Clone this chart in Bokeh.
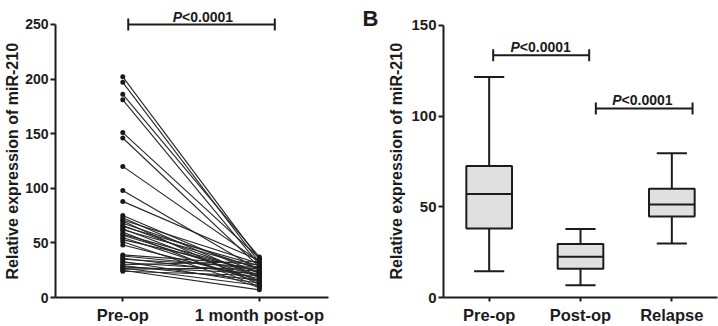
from bokeh.plotting import figure
from bokeh.models import Range1d, FactorRange, FixedTicker, Title, ColumnDataSource
from bokeh.layouts import row
from bokeh.transform import dodge
from bokeh.embed import file_html
from bokeh.resources import INLINE
from bokeh.core.properties import value

FONT = "Liberation Sans"
INK = "#1c1c1c"

# ---- Panel A: paired miR-210 levels before and 1 month after surgery ----
pair_groups = ["Pre-op", "1 month post-op"]
pre_op = [202, 197, 186, 181, 151, 146, 120, 98, 88,
          75, 73, 71, 70, 68, 66, 65, 63, 62, 60, 58, 57, 55, 53, 51, 48,
          39, 38, 36, 35, 33, 32, 30, 29, 28, 27, 26, 25, 24]
post_op = [35, 32, 37, 30, 36, 28, 33, 25, 34,
           22, 18, 31, 12, 26, 20, 29, 15, 27, 10, 23, 19, 14, 24, 9, 17,
           30, 26, 21, 28, 13, 24, 33, 16, 22, 11, 27, 7, 20]
left_ticks = [0, 50, 100, 150, 200, 250]

# ---- Panel B: box plot summaries ----
box_groups = ["Pre-op", "Post-op", "Relapse"]
whisker_low = [14.5, 6.8, 29.8]
q1 = [38.0, 15.8, 44.7]
median = [57.0, 22.4, 51.3]
q3 = [72.5, 29.5, 60.0]
whisker_high = [121.6, 37.7, 79.5]
right_ticks = [0, 50, 100, 150]

p_label = "<0.0001"
y_title = "Relative expression of miR-210"
panel_letter = "B"


def style(p, ticks, tick_font, title_standoff):
    p.xgrid.visible = False
    p.ygrid.visible = False
    p.outline_line_color = None
    p.background_fill_color = "white"
    p.border_fill_color = "white"
    for ax in p.axis:
        ax.axis_line_width = 2
        ax.axis_line_color = INK
        ax.major_tick_line_width = 2
        ax.major_tick_line_color = INK
        ax.major_tick_out = 5
        ax.major_tick_in = 0
        ax.minor_tick_line_color = None
        ax.major_label_text_font = FONT
        ax.major_label_text_font_style = "bold"
        ax.major_label_text_color = INK
    p.xaxis.major_label_text_font_size = "16.5px"
    p.xaxis.major_tick_out = 4
    p.xaxis.major_label_standoff = 4
    p.yaxis.major_label_text_font_size = tick_font
    p.yaxis.major_label_standoff = 2
    p.yaxis.ticker = FixedTicker(ticks=ticks)
    p.yaxis.bounds = (ticks[0], ticks[-1])
    # y title laid out beside the axis, starting just above the x axis
    p.add_layout(Title(text=y_title, align="left", offset=18, standoff=title_standoff,
                       text_font=FONT, text_font_size="16px", text_font_style="bold",
                       text_color=INK), "left")


def p_value(p, x, y):
    p.text(x=[x], y=[y], text=["P"], text_align="right", text_baseline="alphabetic",
           text_font=value(FONT), text_font_style="bold italic", text_font_size="14px",
           text_color=INK)
    p.text(x=[x], y=[y], text=[p_label], text_align="left", text_baseline="alphabetic",
           text_font=value(FONT), text_font_style="bold", text_font_size="14px",
           text_color=INK)


def bracket(p, x0, x1, y, half):
    p.segment(x0=[x0, x0, x1], y0=[y, y - half, y - half],
              x1=[x1, x0, x1], y1=[y, y + half, y + half],
              line_color=INK, line_width=2)


# ---------------- Panel A ----------------
# groups sit at x = 0, 1; the frame runs on to the right to hold the panel letter
pair_x = {g: i for i, g in enumerate(pair_groups)}
pa = figure(width=380, height=326, output_backend="svg", toolbar_location=None,
            x_range=Range1d(-0.4927, 1.8869), y_range=Range1d(0, 271.9),
            min_border_left=54, min_border_right=0, min_border_top=0, min_border_bottom=28)
style(pa, left_ticks, "14px", 3)
pa.xaxis.ticker = FixedTicker(ticks=list(pair_x.values()))
pa.xaxis.major_label_overrides = {i: g for g, i in pair_x.items()}
pa.xaxis.bounds = (-0.4927, 1.5036)

n = len(pre_op)
src = ColumnDataSource(dict(x0=[pair_x[pair_groups[0]]] * n, y0=pre_op,
                            x1=[pair_x[pair_groups[1]]] * n, y1=post_op))
pa.segment(x0="x0", y0="y0", x1="x1", y1="y1", source=src,
           line_color="#262626", line_width=1.1)
pa.scatter(x="x0", y="y0", source=src, marker="circle", size=5,
           fill_color="#1a1a1a", line_color=None)
pa.scatter(x="x1", y="y1", source=src, marker="circle", size=5,
           fill_color="#1a1a1a", line_color=None)

bracket(pa, 0.040, 1.113, 250, 5.5)
p_value(pa, 0.434, 256.5)

# panel letter for the box plot
pa.text(x=[1.755], y=[255.2], text=[panel_letter], text_align="left",
        text_baseline="alphabetic", text_font=value(FONT), text_font_style="bold",
        text_font_size="22px", text_color=INK)

# ---------------- Panel B ----------------
pb = figure(width=338, height=326, output_backend="svg", toolbar_location=None,
            x_range=FactorRange(*box_groups), y_range=Range1d(0, 163.7),
            min_border_left=63, min_border_right=1, min_border_top=0, min_border_bottom=28)
style(pb, right_ticks, "15px", 8)

bsrc = ColumnDataSource(dict(g=box_groups, lo=whisker_low, q1=q1, med=median,
                             q3=q3, hi=whisker_high))
xr = pb.x_range
# whiskers
pb.segment(x0="g", y0="q3", x1="g", y1="hi", source=bsrc, line_color=INK, line_width=2)
pb.segment(x0="g", y0="lo", x1="g", y1="q1", source=bsrc, line_color=INK, line_width=2)
# whisker caps
for col in ("hi", "lo"):
    pb.segment(x0=dodge("g", -0.165, range=xr), y0=col,
               x1=dodge("g", 0.165, range=xr), y1=col,
               source=bsrc, line_color=INK, line_width=2)
# boxes
pb.vbar(x="g", bottom="q1", top="q3", width=0.5, source=bsrc,
        fill_color="#e0e0e0", line_color=INK, line_width=2)
# medians
pb.segment(x0=dodge("g", -0.25, range=xr), y0="med",
           x1=dodge("g", 0.25, range=xr), y1="med",
           source=bsrc, line_color=INK, line_width=2)

bracket(pb, 0.544, 1.595, 133.5, 3.3)
p_value(pb, 0.836, 138.1)
bracket(pb, 1.668, 2.727, 104.2, 3.3)
p_value(pb, 1.95, 108.8)

layout = row(pa, pb)
open("out.html", "w").write(file_html(layout, INLINE))
